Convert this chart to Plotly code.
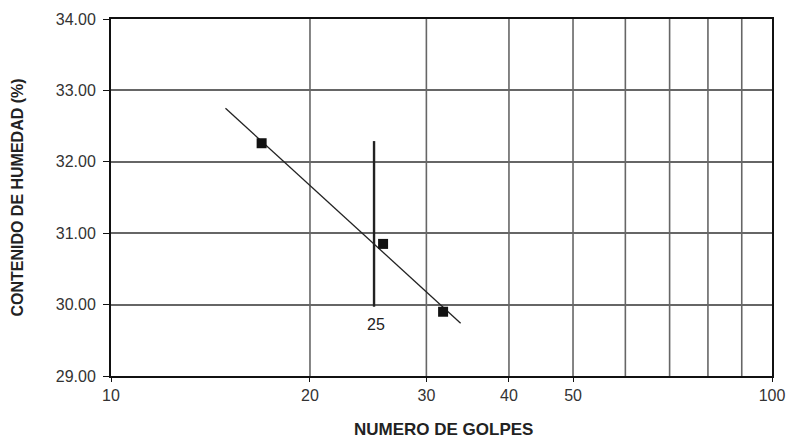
import plotly.graph_objects as go

# Data
golpes = [16.9, 25.8, 31.8]
humedad = [32.26, 30.85, 29.90]

trend_x = [14.9, 33.8]
trend_y = [32.75, 29.74]

ref_x = [25, 25]
ref_y = [29.97, 32.29]
ref_label = "25"

x_ticks = [10, 20, 30, 40, 50, 100]
x_grid = [20, 30, 40, 50, 60, 70, 80, 90]
y_ticks = [29, 30, 31, 32, 33, 34]

x_title = "NUMERO DE GOLPES"
y_title = "CONTENIDO DE HUMEDAD (%)"

FONT = "Liberation Sans, Arial"

fig = go.Figure()

fig.add_trace(go.Scatter(x=trend_x, y=trend_y, mode="lines",
                         line=dict(color="#222", width=1.3), showlegend=False))
fig.add_trace(go.Scatter(x=ref_x, y=ref_y, mode="lines",
                         line=dict(color="#222", width=2.4), showlegend=False))
fig.add_trace(go.Scatter(x=golpes, y=humedad, mode="markers",
                         marker=dict(symbol="square", size=10, color="#111"),
                         showlegend=False))

fig.add_annotation(x=1.39794, y=ref_y[0], xref="x", yref="y", text=ref_label,
                   showarrow=False, yanchor="top", xshift=2, yshift=-7,
                   font=dict(size=16, color="#222", family=FONT))

# x-axis title placed below the tick labels
fig.add_annotation(x=0.5, y=0, xref="paper", yref="paper", text="<b>" + x_title + "</b>",
                   showarrow=False, yanchor="middle", xshift=2, yshift=-53,
                   font=dict(size=17, color="#222", family=FONT))

for g in x_grid:
    fig.add_shape(type="line", x0=g, x1=g, y0=29, y1=34, xref="x", yref="y",
                  line=dict(color="#666", width=1.6), layer="below")

fig.update_xaxes(type="log", range=[1, 2], tickvals=x_ticks,
                 ticktext=[str(t) for t in x_ticks], showgrid=False,
                 showline=True, linecolor="#111", linewidth=2, mirror=True,
                 ticks="outside", ticklen=4, tickcolor="#111",
                 tickfont=dict(size=16, color="#333", family=FONT),
                 zeroline=False, automargin=False)
fig.update_yaxes(range=[29, 34], tickvals=y_ticks, tickformat=".2f",
                 showgrid=True, gridcolor="#666", gridwidth=1.6,
                 showline=True, linecolor="#111", linewidth=2, mirror=True,
                 ticks="outside", ticklen=6, tickcolor="#111",
                 ticklabelstandoff=4,
                 tickfont=dict(size=16, color="#333", family=FONT),
                 title=dict(text="<b>" + y_title + "</b>", standoff=28,
                            font=dict(size=16, color="#222", family=FONT)),
                 zeroline=False, automargin=True)

fig.update_layout(width=786, height=441, plot_bgcolor="white", paper_bgcolor="white",
                  margin=dict(l=111, r=14, t=19, b=65))

fig.write_html("out.html", config={"displayModeBar": False},
               post_script="document.body.style.margin='0';")
